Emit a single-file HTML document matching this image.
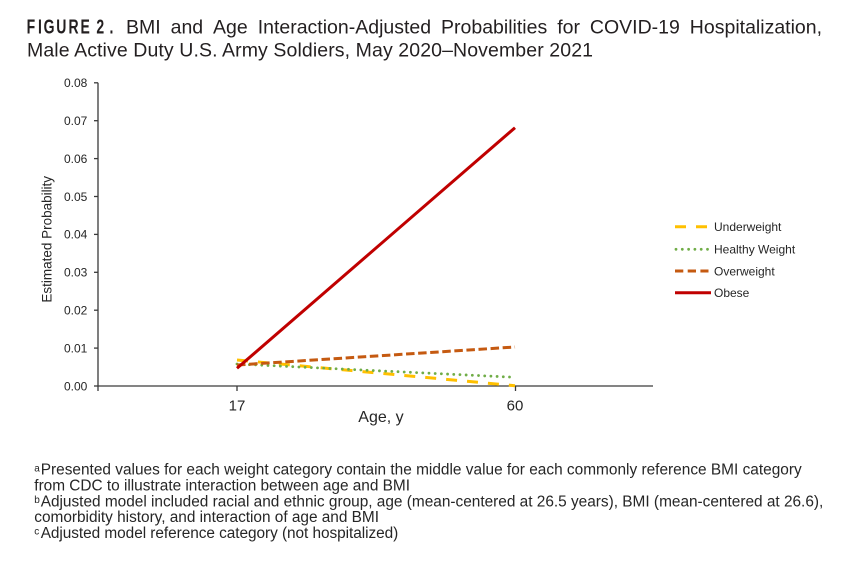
<!DOCTYPE html>
<html>
<head>
<meta charset="utf-8">
<style>
  html, body { margin:0; padding:0; background:#fff; }
  svg { display:block; }
  text { font-family: "Liberation Sans", Arial, sans-serif; }
</style>
</head>
<body>
<svg width="850" height="562" viewBox="0 0 850 562" xmlns="http://www.w3.org/2000/svg">
  <rect width="850" height="562" fill="#fff"/>

  <!-- Title -->
  <g fill="#231f20">
    <text transform="scale(0.7,1)" font-weight="bold" font-size="20" y="33.3">
      <tspan x="38.1">F</tspan><tspan x="54.2">I</tspan><tspan x="62.4">G</tspan><tspan x="80.3">U</tspan><tspan x="97.9">R</tspan><tspan x="115">E</tspan><tspan x="137.6">2</tspan><tspan x="156.5">.</tspan>
    </text>
    <text font-size="19.5" y="33.3">
      <tspan x="126">BMI</tspan><tspan x="170.6">and</tspan><tspan x="213">Age</tspan><tspan x="257.7">Interaction-Adjusted</tspan><tspan x="441">Probabilities</tspan><tspan x="557.2">for</tspan><tspan x="589.9">COVID-19</tspan><tspan x="689.8">Hospitalization,</tspan>
    </text>
    <text font-size="19.5" x="27" y="56.7" textLength="566" lengthAdjust="spacing">Male Active Duty U.S. Army Soldiers, May 2020–November 2021</text>
  </g>

  <!-- Axes -->
  <g stroke="#3a3a3a" stroke-width="1.3" fill="none">
    <line x1="98" y1="82.8" x2="98" y2="386.6"/>
    <line x1="97.4" y1="386" x2="653" y2="386"/>
    <line x1="94" y1="82.8" x2="98" y2="82.8"/>
    <line x1="94" y1="120.7" x2="98" y2="120.7"/>
    <line x1="94" y1="158.6" x2="98" y2="158.6"/>
    <line x1="94" y1="196.5" x2="98" y2="196.5"/>
    <line x1="94" y1="234.4" x2="98" y2="234.4"/>
    <line x1="94" y1="272.3" x2="98" y2="272.3"/>
    <line x1="94" y1="310.2" x2="98" y2="310.2"/>
    <line x1="94" y1="348.1" x2="98" y2="348.1"/>
    <line x1="94" y1="386" x2="98" y2="386"/>
    <line x1="98" y1="386" x2="98" y2="391"/>
    <line x1="237" y1="386" x2="237" y2="391"/>
    <line x1="515.5" y1="386" x2="515.5" y2="391"/>
  </g>

  <!-- Y tick labels -->
  <g fill="#262626" font-size="12" text-anchor="end">
    <text x="87.3" y="87.1">0.08</text>
    <text x="87.3" y="125">0.07</text>
    <text x="87.3" y="162.9">0.06</text>
    <text x="87.3" y="200.8">0.05</text>
    <text x="87.3" y="238.7">0.04</text>
    <text x="87.3" y="276.6">0.03</text>
    <text x="87.3" y="314.5">0.02</text>
    <text x="87.3" y="352.4">0.01</text>
    <text x="87.3" y="390.3">0.00</text>
  </g>

  <!-- Y axis title -->
  <text fill="#262626" font-size="13.5" text-anchor="middle" transform="translate(51.7,239.3) rotate(-90)" textLength="126.7" lengthAdjust="spacingAndGlyphs">Estimated Probability</text>

  <!-- X tick labels -->
  <g fill="#262626" font-size="15" text-anchor="middle">
    <text x="237" y="410.5">17</text>
    <text x="515" y="410.5">60</text>
  </g>
  <text fill="#262626" font-size="16" x="358.3" y="422">Age, y</text>

  <!-- Series -->
  <line x1="237" y1="360" x2="515" y2="385.7" stroke="#FFC000" stroke-width="3" stroke-dasharray="11 10"/>
  <line x1="237" y1="364" x2="515" y2="377.3" stroke="#70AD47" stroke-width="2.8" stroke-dasharray="0 6.2" stroke-linecap="round"/>
  <line x1="237" y1="365" x2="515" y2="347" stroke="#C55A11" stroke-width="3" stroke-dasharray="8.5 3.6"/>
  <line x1="237" y1="368.3" x2="515" y2="127.7" stroke="#C00000" stroke-width="3"/>

  <!-- Legend -->
  <line x1="675" y1="226.7" x2="708" y2="226.7" stroke="#FFC000" stroke-width="3" stroke-dasharray="11 10"/>
  <line x1="676" y1="249.3" x2="708" y2="249.3" stroke="#70AD47" stroke-width="2.8" stroke-dasharray="0 6.3" stroke-linecap="round"/>
  <line x1="675" y1="271" x2="708.5" y2="271" stroke="#C55A11" stroke-width="3" stroke-dasharray="8.3 4.4"/>
  <line x1="675" y1="292.7" x2="711" y2="292.7" stroke="#C00000" stroke-width="3"/>
  <g fill="#262626" font-size="12">
    <text x="714" y="231">Underweight</text>
    <text x="714" y="253.6">Healthy Weight</text>
    <text x="714" y="275.3">Overweight</text>
    <text x="714" y="297">Obese</text>
  </g>

  <!-- Footnotes -->
  <g fill="#262626">
    <text font-size="10" x="34.3" y="471.5">a</text>
    <text font-size="15.4" x="40.7" y="474.7" textLength="761" lengthAdjust="spacing">Presented values for each weight category contain the middle value for each commonly reference BMI category</text>
    <text font-size="15.4" x="34.3" y="490.5" textLength="375.7" lengthAdjust="spacing">from CDC to illustrate interaction between age and BMI</text>
    <text font-size="10" x="34.3" y="503.2">b</text>
    <text font-size="15.4" x="40.7" y="506.3" textLength="782.6" lengthAdjust="spacing">Adjusted model included racial and ethnic group, age (mean-centered at 26.5 years), BMI (mean-centered at 26.6),</text>
    <text font-size="15.4" x="34.3" y="522.1" textLength="344.7" lengthAdjust="spacing">comorbidity history, and interaction of age and BMI</text>
    <text font-size="10" x="34.3" y="534.7">c</text>
    <text font-size="15.4" x="40.7" y="537.8" textLength="357.6" lengthAdjust="spacing">Adjusted model reference category (not hospitalized)</text>
  </g>
</svg>
</body>
</html>
